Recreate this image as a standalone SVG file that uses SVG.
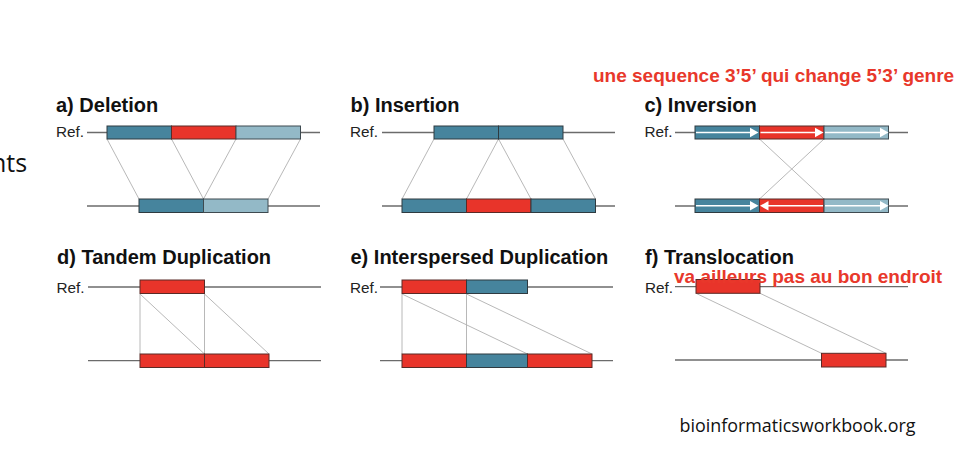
<svg xmlns="http://www.w3.org/2000/svg" width="976" height="452" viewBox="0 0 976 452">
<style>
.bg{fill:#ffffff}
.title{font-family:"Liberation Sans",Arial,sans-serif;font-weight:bold;font-size:20px;fill:#111}
.ref{font-family:"Liberation Sans",Arial,sans-serif;font-size:15.3px;fill:#222}
.note{font-family:"Liberation Sans",Arial,sans-serif;font-weight:bold;font-size:19px;fill:#e8382b}
.slide{font-family:"Open Sans","Liberation Sans",sans-serif;fill:#111}
.base{stroke:#6b6b6b;stroke-width:1.3;fill:none}
.conn{stroke:#b0b0b0;stroke-width:0.9;fill:none}
.dk{fill:#46849d;stroke:#2e3a40;stroke-width:1}
.rd{fill:#e8342a;stroke:#5a2a26;stroke-width:1}
.lt{fill:#93b9c7;stroke:#3e4a50;stroke-width:1}
.wl{stroke:#ffffff;stroke-width:1.5;fill:none}
.wa{fill:#ffffff}
</style>
<rect class="bg" x="0" y="0" width="976" height="452"/>

<text class="slide" x="-9" y="172" font-size="25">nts</text>

<!-- a) Deletion -->
<g id="panel-a">
  <text class="title" x="56" y="112">a) Deletion</text>
  <text class="ref" x="56" y="137">Ref.</text>
  <line class="base" x1="87" y1="132.5" x2="320" y2="132.5"/>
  <line class="base" x1="87" y1="206" x2="320" y2="206"/>
  <g id="a-connectors">
    <line class="conn" x1="107" y1="139" x2="139" y2="199"/>
    <line class="conn" x1="171.5" y1="139" x2="203.5" y2="199"/>
    <line class="conn" x1="236" y1="139" x2="203.5" y2="199"/>
    <line class="conn" x1="300.5" y1="139" x2="268" y2="199"/>
  </g>
  <g id="a-ref"><rect class="dk" x="107" y="126" width="64.5" height="13"/><rect class="rd" x="171.5" y="126" width="64.5" height="13"/><rect class="lt" x="236" y="126" width="64.5" height="13"/></g>
  <g id="a-alt"><rect class="dk" x="139" y="199" width="64.5" height="13.5"/><rect class="lt" x="203.5" y="199" width="64.5" height="13.5"/></g>
</g>

<!-- b) Insertion -->
<g id="panel-b">
  <text class="title" x="350.5" y="112">b) Insertion</text>
  <text class="ref" x="350" y="137">Ref.</text>
  <line class="base" x1="382" y1="132.5" x2="615" y2="132.5"/>
  <line class="base" x1="382" y1="206" x2="615" y2="206"/>
  <g id="b-connectors">
    <line class="conn" x1="434" y1="139" x2="402" y2="199"/>
    <line class="conn" x1="498.5" y1="139" x2="466.5" y2="199"/>
    <line class="conn" x1="498.5" y1="139" x2="531" y2="199"/>
    <line class="conn" x1="563" y1="139" x2="595.5" y2="199"/>
  </g>
  <g id="b-ref"><rect class="dk" x="434" y="126" width="64.5" height="13"/><rect class="dk" x="498.5" y="126" width="64.5" height="13"/></g>
  <g id="b-alt"><rect class="dk" x="402" y="199" width="64.5" height="13.5"/><rect class="rd" x="466.5" y="199" width="64.5" height="13.5"/><rect class="dk" x="531" y="199" width="64.5" height="13.5"/></g>
</g>

<!-- c) Inversion -->
<g id="panel-c">
  <text class="note" x="593" y="82">une sequence 3’5’ qui change 5’3’ genre</text>
  <text class="title" x="644.5" y="112">c) Inversion</text>
  <text class="ref" x="644.5" y="137">Ref.</text>
  <line class="base" x1="675" y1="132.5" x2="908" y2="132.5"/>
  <line class="base" x1="675" y1="206" x2="908" y2="206"/>
  <g id="c-connectors">
    <line class="conn" x1="759.5" y1="139" x2="824" y2="199"/>
    <line class="conn" x1="824" y1="139" x2="759.5" y2="199"/>
  </g>
  <g id="c-ref">
    <rect class="dk" x="695" y="126" width="64.5" height="13"/><rect class="rd" x="759.5" y="126" width="64.5" height="13"/><rect class="lt" x="824" y="126" width="64.5" height="13"/>
    <line class="wl" x1="696" y1="132.5" x2="751" y2="132.5"/><polygon class="wa" points="750,127.8 758.5,132.5 750,137.2"/>
    <line class="wl" x1="760.5" y1="132.5" x2="816" y2="132.5"/><polygon class="wa" points="815,127.8 823.5,132.5 815,137.2"/>
    <line class="wl" x1="825" y1="132.5" x2="881" y2="132.5"/><polygon class="wa" points="880,127.8 888.5,132.5 880,137.2"/>
  </g>
  <g id="c-alt">
    <rect class="dk" x="695" y="199" width="64.5" height="13.5"/><rect class="rd" x="759.5" y="199" width="64.5" height="13.5"/><rect class="lt" x="824" y="199" width="64.5" height="13.5"/>
    <line class="wl" x1="696" y1="205.8" x2="751" y2="205.8"/><polygon class="wa" points="750,201.1 758.5,205.8 750,210.5"/>
    <line class="wl" x1="767" y1="205.8" x2="823" y2="205.8"/><polygon class="wa" points="768.5,201.1 760,205.8 768.5,210.5"/>
    <line class="wl" x1="825" y1="205.8" x2="881" y2="205.8"/><polygon class="wa" points="880,201.1 888.5,205.8 880,210.5"/>
  </g>
</g>

<!-- d) Tandem Duplication -->
<g id="panel-d">
  <text class="title" x="57" y="264">d) Tandem Duplication</text>
  <text class="ref" x="56.5" y="293">Ref.</text>
  <line class="base" x1="88" y1="287" x2="321" y2="287"/>
  <line class="base" x1="88" y1="360.7" x2="321" y2="360.7"/>
  <g id="d-connectors">
    <line class="conn" x1="140" y1="294" x2="140" y2="354"/>
    <line class="conn" x1="140" y1="294" x2="204.5" y2="354"/>
    <line class="conn" x1="204.5" y1="294" x2="204.5" y2="354"/>
    <line class="conn" x1="204.5" y1="294" x2="269" y2="354"/>
  </g>
  <g id="d-ref"><rect class="rd" x="140" y="280" width="64.5" height="13.5"/></g>
  <g id="d-alt"><rect class="rd" x="140" y="354" width="64.5" height="13.5"/><rect class="rd" x="204.5" y="354" width="64.5" height="13.5"/></g>
</g>

<!-- e) Interspersed Duplication -->
<g id="panel-e">
  <text class="title" x="350.5" y="264">e) Interspersed Duplication</text>
  <text class="ref" x="350" y="293">Ref.</text>
  <line class="base" x1="380" y1="287" x2="613" y2="287"/>
  <line class="base" x1="380" y1="360.7" x2="613" y2="360.7"/>
  <g id="e-connectors">
    <line class="conn" x1="402" y1="294" x2="402" y2="354"/>
    <line class="conn" x1="402" y1="294" x2="527.5" y2="354"/>
    <line class="conn" x1="466.5" y1="294" x2="466.5" y2="354"/>
    <line class="conn" x1="466.5" y1="294" x2="592" y2="354"/>
  </g>
  <g id="e-ref"><rect class="rd" x="402" y="280" width="64.5" height="13.5"/><rect class="dk" x="466.5" y="280" width="61" height="13.5"/></g>
  <g id="e-alt"><rect class="rd" x="402" y="354" width="64.5" height="13.5"/><rect class="dk" x="466.5" y="354" width="61" height="13.5"/><rect class="rd" x="527.5" y="354" width="64.5" height="13.5"/></g>
</g>

<!-- f) Translocation -->
<g id="panel-f">
  <text class="title" x="645" y="264">f) Translocation</text>
  <text class="ref" x="645" y="293">Ref.</text>
  <line class="base" x1="675" y1="286.7" x2="908" y2="286.7"/>
  <line class="base" x1="675" y1="360" x2="908" y2="360"/>
  <g id="f-connectors">
    <line class="conn" x1="696" y1="293.3" x2="821.5" y2="353.3"/>
    <line class="conn" x1="760" y1="293.3" x2="886" y2="353.3"/>
  </g>
  <g id="f-ref"><rect class="rd" x="696" y="279.5" width="64" height="13.8"/></g>
  <g id="f-alt"><rect class="rd" x="821.5" y="353.3" width="64.5" height="13.7"/></g>
  <text class="note" x="674" y="283">va ailleurs pas au bon endroit</text>
</g>

<text class="slide" x="679.5" y="432" font-size="18" textLength="236" lengthAdjust="spacingAndGlyphs">bioinformaticsworkbook.org</text>
</svg>
